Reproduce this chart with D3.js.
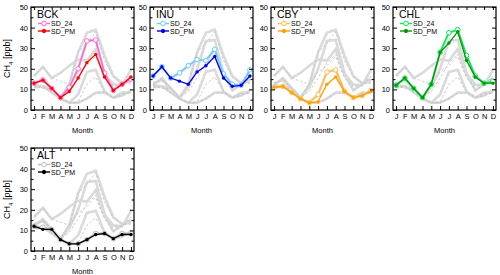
<!DOCTYPE html>
<html>
<head>
<meta charset="utf-8">
<script src="https://cdn.jsdelivr.net/npm/d3@7"></script>
<style>
  body { margin: 0; background: #fff; }
  svg { font-family: "Liberation Sans", Arial, sans-serif; }
</style>
</head>
<body>
<svg id="chart" width="500" height="275"></svg>
<script>
const months = ["J", "F", "M", "A", "M", "J", "J", "A", "S", "O", "N", "D"];
const stations = ["BCK", "INU", "CBY", "CHL", "ALT"];

// SD_24 and SD_PM per station, ppb
const bck24 = [13, 14.5, 10.5, 6, 11, 20, 33.5, 34, 18, 9.5, 12.5, 15];
const bckPM = [13, 14.5, 10.5, 6, 9, 15.5, 23, 27, 16, 9.5, 12.5, 16];
const inu24 = [16.5, 21, 15.5, 18, 21.5, 24.5, 24, 29.5, 17.5, 12.5, 12, 19.5];
const inuPM = [16.5, 21, 15.5, 14, 12.5, 18.5, 21.5, 26, 15.5, 11.5, 12, 16.5];
const cby24 = [11, 11.5, 8.5, 5.5, 3.5, 7.5, 18.5, 19.5, 9, 6, 7, 9.5];
const cbyPM = [11, 11.5, 8.5, 5.5, 3.5, 4, 12.5, 16, 9, 6, 7, 9];
const chl24 = [12, 15.5, 10.5, 6, 12.5, 28, 37.5, 39, 26.5, 16.5, 13, 14];
const chlPM = [12, 15.5, 10.5, 6, 12.5, 28, 32.5, 38, 24, 16, 13, 13];
const alt24 = [12, 11.5, 10.5, 5.5, 3.5, 3.5, 5.5, 8.5, 8.5, 6, 8.5, 8.5];
const altPM = [12, 10.5, 10.5, 5.5, 3.5, 3.5, 5.5, 8, 8.5, 6, 8, 8];

const sd24 = [bck24, inu24, cby24, chl24, alt24];
const sdPM = [bckPM, inuPM, cbyPM, chlPM, altPM];
const colors24 = ["#ff66dd", "#66ccff", "#ffc04d", "#00ee55", "#bbbbbb"];
const colorsPM = ["#ff0000", "#0000ee", "#ffa000", "#009900", "#000000"];

const panels = [
  { x: 31, y: 7 }, { x: 150, y: 7 }, { x: 271, y: 7 }, { x: 393, y: 7 },
  { x: 31, y: 148 }
];
const w = 103, h = 103;

const svg = d3.select("#chart");

const x = d3.scalePoint().domain(d3.range(12)).range([0, w]).padding(0.35);
const y = d3.scaleLinear().domain([0, 50]).range([h, 0]);

const line = d3.line().x((d, i) => x(i)).y(d => y(d));

stations.forEach((name, k) => {
  const p = panels[k];
  const g = svg.append("g").attr("transform", `translate(${p.x},${p.y})`);

  const clip = "clip" + k;
  g.append("clipPath").attr("id", clip)
    .append("rect").attr("width", w).attr("height", h);
  const plot = g.append("g").attr("clip-path", `url(#${clip})`);

  // grey background: all stations
  sd24.forEach(s => {
    plot.append("path").datum(s)
      .attr("d", line).attr("fill", "none")
      .attr("stroke", "#dadada").attr("stroke-width", 2.6);
  });
  sdPM.forEach(s => {
    plot.append("path").datum(s)
      .attr("d", line).attr("fill", "none")
      .attr("stroke", "#c4c4c4").attr("stroke-width", 0.9)
      .attr("stroke-dasharray", "2.5,2");
  });

  // station series
  plot.append("path").datum(sd24[k])
    .attr("d", line).attr("fill", "none")
    .attr("stroke", colors24[k]).attr("stroke-width", 1.6);
  plot.selectAll(".c24").data(sd24[k]).join("circle")
    .attr("cx", (d, i) => x(i)).attr("cy", d => y(d)).attr("r", 2.3)
    .attr("fill", "#fff").attr("stroke", colors24[k]).attr("stroke-width", 1);

  plot.append("path").datum(sdPM[k])
    .attr("d", line).attr("fill", "none")
    .attr("stroke", colorsPM[k]).attr("stroke-width", 1.3);
  plot.selectAll(".cpm").data(sdPM[k]).join("circle")
    .attr("cx", (d, i) => x(i)).attr("cy", d => y(d)).attr("r", 1.7)
    .attr("fill", colorsPM[k]);

  // axes
  const left = g.append("g")
    .call(d3.axisLeft(y).tickValues(d3.range(0, 51, 5)).tickSizeInner(-3).tickSizeOuter(0).tickPadding(3)
      .tickFormat(d => d % 10 === 0 ? d : ""));
  left.selectAll(".tick line").attr("x2", d => d % 10 === 0 ? 4 : 2.5);
  const right = g.append("g").attr("transform", `translate(${w},0)`)
    .call(d3.axisRight(y).tickValues(d3.range(0, 51, 5)).tickSizeInner(-3).tickSizeOuter(0).tickFormat(""));
  right.selectAll(".tick line").attr("x2", d => d % 10 === 0 ? -4 : -2.5);
  const bottom = g.append("g").attr("transform", `translate(0,${h})`)
    .call(d3.axisBottom(x).tickSizeInner(-4).tickSizeOuter(0).tickPadding(4).tickFormat(i => months[i]));
  g.append("g")
    .call(d3.axisTop(x).tickSizeInner(-3).tickSizeOuter(0).tickFormat(""));
  g.selectAll(".domain").remove();
  g.selectAll(".tick text").attr("font-size", 7.5).attr("fill", "#000");
  g.selectAll(".tick line").attr("stroke", "#000");
  bottom.selectAll(".tick text").attr("dy", "0.6em");

  g.append("rect").attr("width", w).attr("height", h)
    .attr("fill", "none").attr("stroke", "#000").attr("stroke-width", 1.2);

  g.append("text").attr("x", w / 2).attr("y", h + 23)
    .attr("text-anchor", "middle").attr("font-size", 7.5).text("Month");

  if (k === 0 || k === 4) {
    const t = g.append("text")
      .attr("transform", `translate(-21,${h / 2}) rotate(-90)`)
      .attr("text-anchor", "middle").attr("font-size", 9);
    t.append("tspan").text("CH");
    t.append("tspan").attr("font-size", 6).attr("dy", 2.5).text("4");
    t.append("tspan").attr("dy", -2.5).text(" [ppb]");
  }

  // legend
  g.append("text").attr("x", 6).attr("y", 11).attr("font-size", 10.5).text(name);
  const leg = [
    { label: "SD_24", c: colors24[k], open: true, yy: 16.5 },
    { label: "SD_PM", c: colorsPM[k], open: false, yy: 24 }
  ];
  leg.forEach(l => {
    g.append("line").attr("x1", 7).attr("x2", 19).attr("y1", l.yy).attr("y2", l.yy)
      .attr("stroke", l.c).attr("stroke-width", 1.4);
    g.append("circle").attr("cx", 13).attr("cy", l.yy).attr("r", l.open ? 2.3 : 1.7)
      .attr("fill", l.open ? "#fff" : l.c).attr("stroke", l.c).attr("stroke-width", 1);
    g.append("text").attr("x", 20).attr("y", l.yy + 2.5).attr("font-size", 7).text(l.label);
  });
});
</script>
</body>
</html>
